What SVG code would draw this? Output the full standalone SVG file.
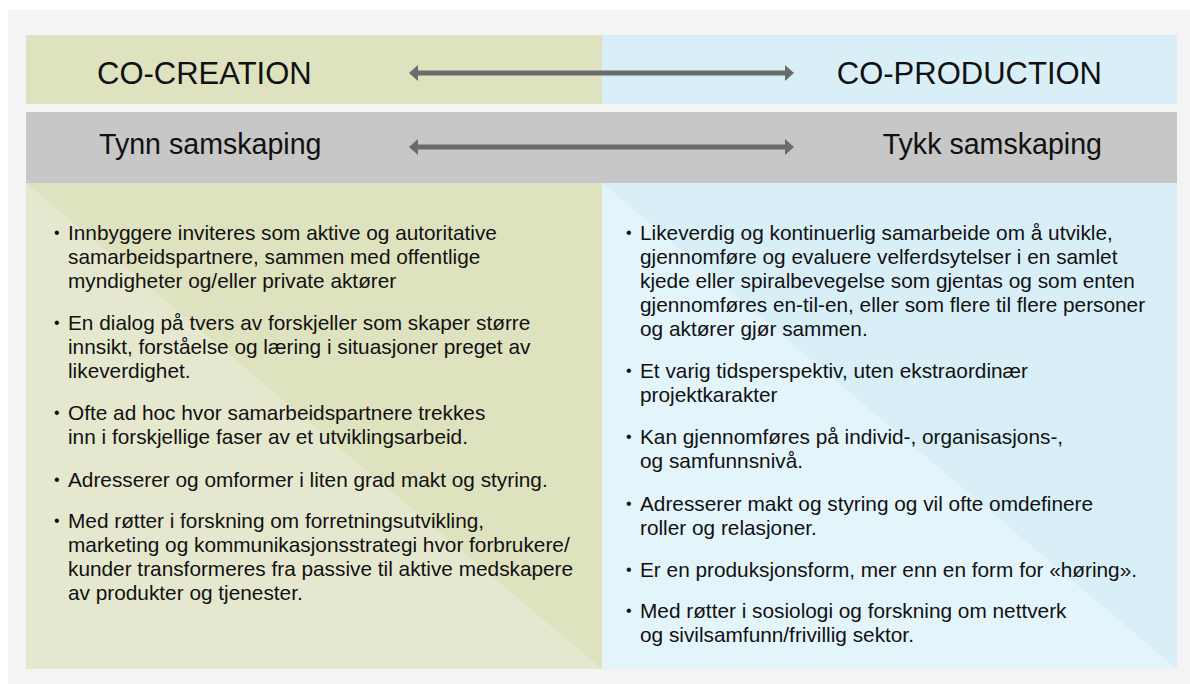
<svg xmlns="http://www.w3.org/2000/svg" width="1190" height="684" viewBox="0 0 1190 684">
  <style>
    text { font-family: "Liberation Sans", Arial, Helvetica, sans-serif; fill: #111111; }
    .hd { font-size: 31px; }
    .sub { font-size: 28.6px; }
    .body { font-size: 20.8px; }
    .dot { font-size: 16px; }
    .green { fill: #dfe2bf; }
    .green-lt { fill: #e5e8cf; }
    .blue { fill: #d9eff8; }
    .blue-lt { fill: #e3f4fb; }
    .band { fill: #c6c7c6; }
    .link { stroke: #6b6b6b; stroke-width: 5; fill: none; }
  </style>
  <defs>
    <marker id="head" viewBox="0 0 9 16" refX="0" refY="8" markerWidth="9" markerHeight="16" markerUnits="userSpaceOnUse" orient="auto-start-reverse">
      <path d="M0,0 L9,8 L0,16 z" fill="#6b6b6b"/>
    </marker>
  </defs>

  <!-- page and frame -->
  <rect x="0" y="0" width="1190" height="684" fill="#ffffff"/>
  <rect x="8" y="10" width="1182" height="674" fill="#f4f4f4"/>

  <!-- top header row -->
  <g id="co-creation">
    <rect class="green" x="26" y="35" width="576" height="69"/>
    <text class="hd" x="97" y="84">CO-CREATION</text>
  </g>
  <g id="co-production">
    <rect class="blue" x="602" y="35" width="575" height="69"/>
    <text class="hd" x="1102" y="84" text-anchor="end">CO-PRODUCTION</text>
  </g>

  <!-- grey scale band -->
  <rect class="band" x="26" y="112" width="1151" height="71"/>
  <g id="tynn">
    <text class="sub" x="99" y="154">Tynn samskaping</text>
  </g>
  <g id="tykk">
    <text class="sub" x="1102" y="154" text-anchor="end">Tykk samskaping</text>
  </g>

  <!-- connectors -->
  <g id="connectors">
    <line class="link" x1="418" y1="73" x2="785" y2="73" marker-start="url(#head)" marker-end="url(#head)"/>
    <line class="link" x1="418" y1="147" x2="785" y2="147" marker-start="url(#head)" marker-end="url(#head)"/>
  </g>

  <!-- left column: thin co-creation -->
  <g id="left-list">
    <rect class="green" x="26" y="183" width="576" height="486"/>
    <polygon class="green-lt" points="26,183 26,669 602,669"/>
    <g class="body">
      <text class="dot" x="54" y="238">•</text>
      <text x="68" y="240">Innbyggere inviteres som aktive og autoritative</text>
      <text x="68" y="264">samarbeidspartnere, sammen med offentlige</text>
      <text x="68" y="288">myndigheter og/eller private aktører</text>

      <text class="dot" x="54" y="328">•</text>
      <text x="68" y="330">En dialog på tvers av forskjeller som skaper større</text>
      <text x="68" y="354">innsikt, forståelse og læring i situasjoner preget av</text>
      <text x="68" y="378">likeverdighet.</text>

      <text class="dot" x="54" y="418">•</text>
      <text x="68" y="420">Ofte ad hoc hvor samarbeidspartnere trekkes</text>
      <text x="68" y="444">inn i forskjellige faser av et utviklingsarbeid.</text>

      <text class="dot" x="54" y="485">•</text>
      <text x="68" y="487">Adresserer og omformer i liten grad makt og styring.</text>

      <text class="dot" x="54" y="526">•</text>
      <text x="68" y="528">Med røtter i forskning om forretningsutvikling,</text>
      <text x="68" y="552">marketing og kommunikasjonsstrategi hvor forbrukere/</text>
      <text x="68" y="576">kunder transformeres fra passive til aktive medskapere</text>
      <text x="68" y="600">av produkter og tjenester.</text>
    </g>
  </g>

  <!-- right column: thick co-production -->
  <g id="right-list">
    <rect class="blue" x="602" y="183" width="575" height="486"/>
    <polygon class="blue-lt" points="602,183 602,669 1177,669"/>
    <g class="body">
      <text class="dot" x="626" y="238">•</text>
      <text x="640" y="240">Likeverdig og kontinuerlig samarbeide om å utvikle,</text>
      <text x="640" y="264">gjennomføre og evaluere velferdsytelser i en samlet</text>
      <text x="640" y="288">kjede eller spiralbevegelse som gjentas og som enten</text>
      <text x="640" y="312">gjennomføres en-til-en, eller som flere til flere personer</text>
      <text x="640" y="336">og aktører gjør sammen.</text>

      <text class="dot" x="626" y="376">•</text>
      <text x="640" y="378">Et varig tidsperspektiv, uten ekstraordinær</text>
      <text x="640" y="402">projektkarakter</text>

      <text class="dot" x="626" y="442">•</text>
      <text x="640" y="444">Kan gjennomføres på individ-, organisasjons-,</text>
      <text x="640" y="468">og samfunnsnivå.</text>

      <text class="dot" x="626" y="509">•</text>
      <text x="640" y="511">Adresserer makt og styring og vil ofte omdefinere</text>
      <text x="640" y="535">roller og relasjoner.</text>

      <text class="dot" x="626" y="575">•</text>
      <text x="640" y="577">Er en produksjonsform, mer enn en form for «høring».</text>

      <text class="dot" x="626" y="616">•</text>
      <text x="640" y="618">Med røtter i sosiologi og forskning om nettverk</text>
      <text x="640" y="642">og sivilsamfunn/frivillig sektor.</text>
    </g>
  </g>
</svg>
